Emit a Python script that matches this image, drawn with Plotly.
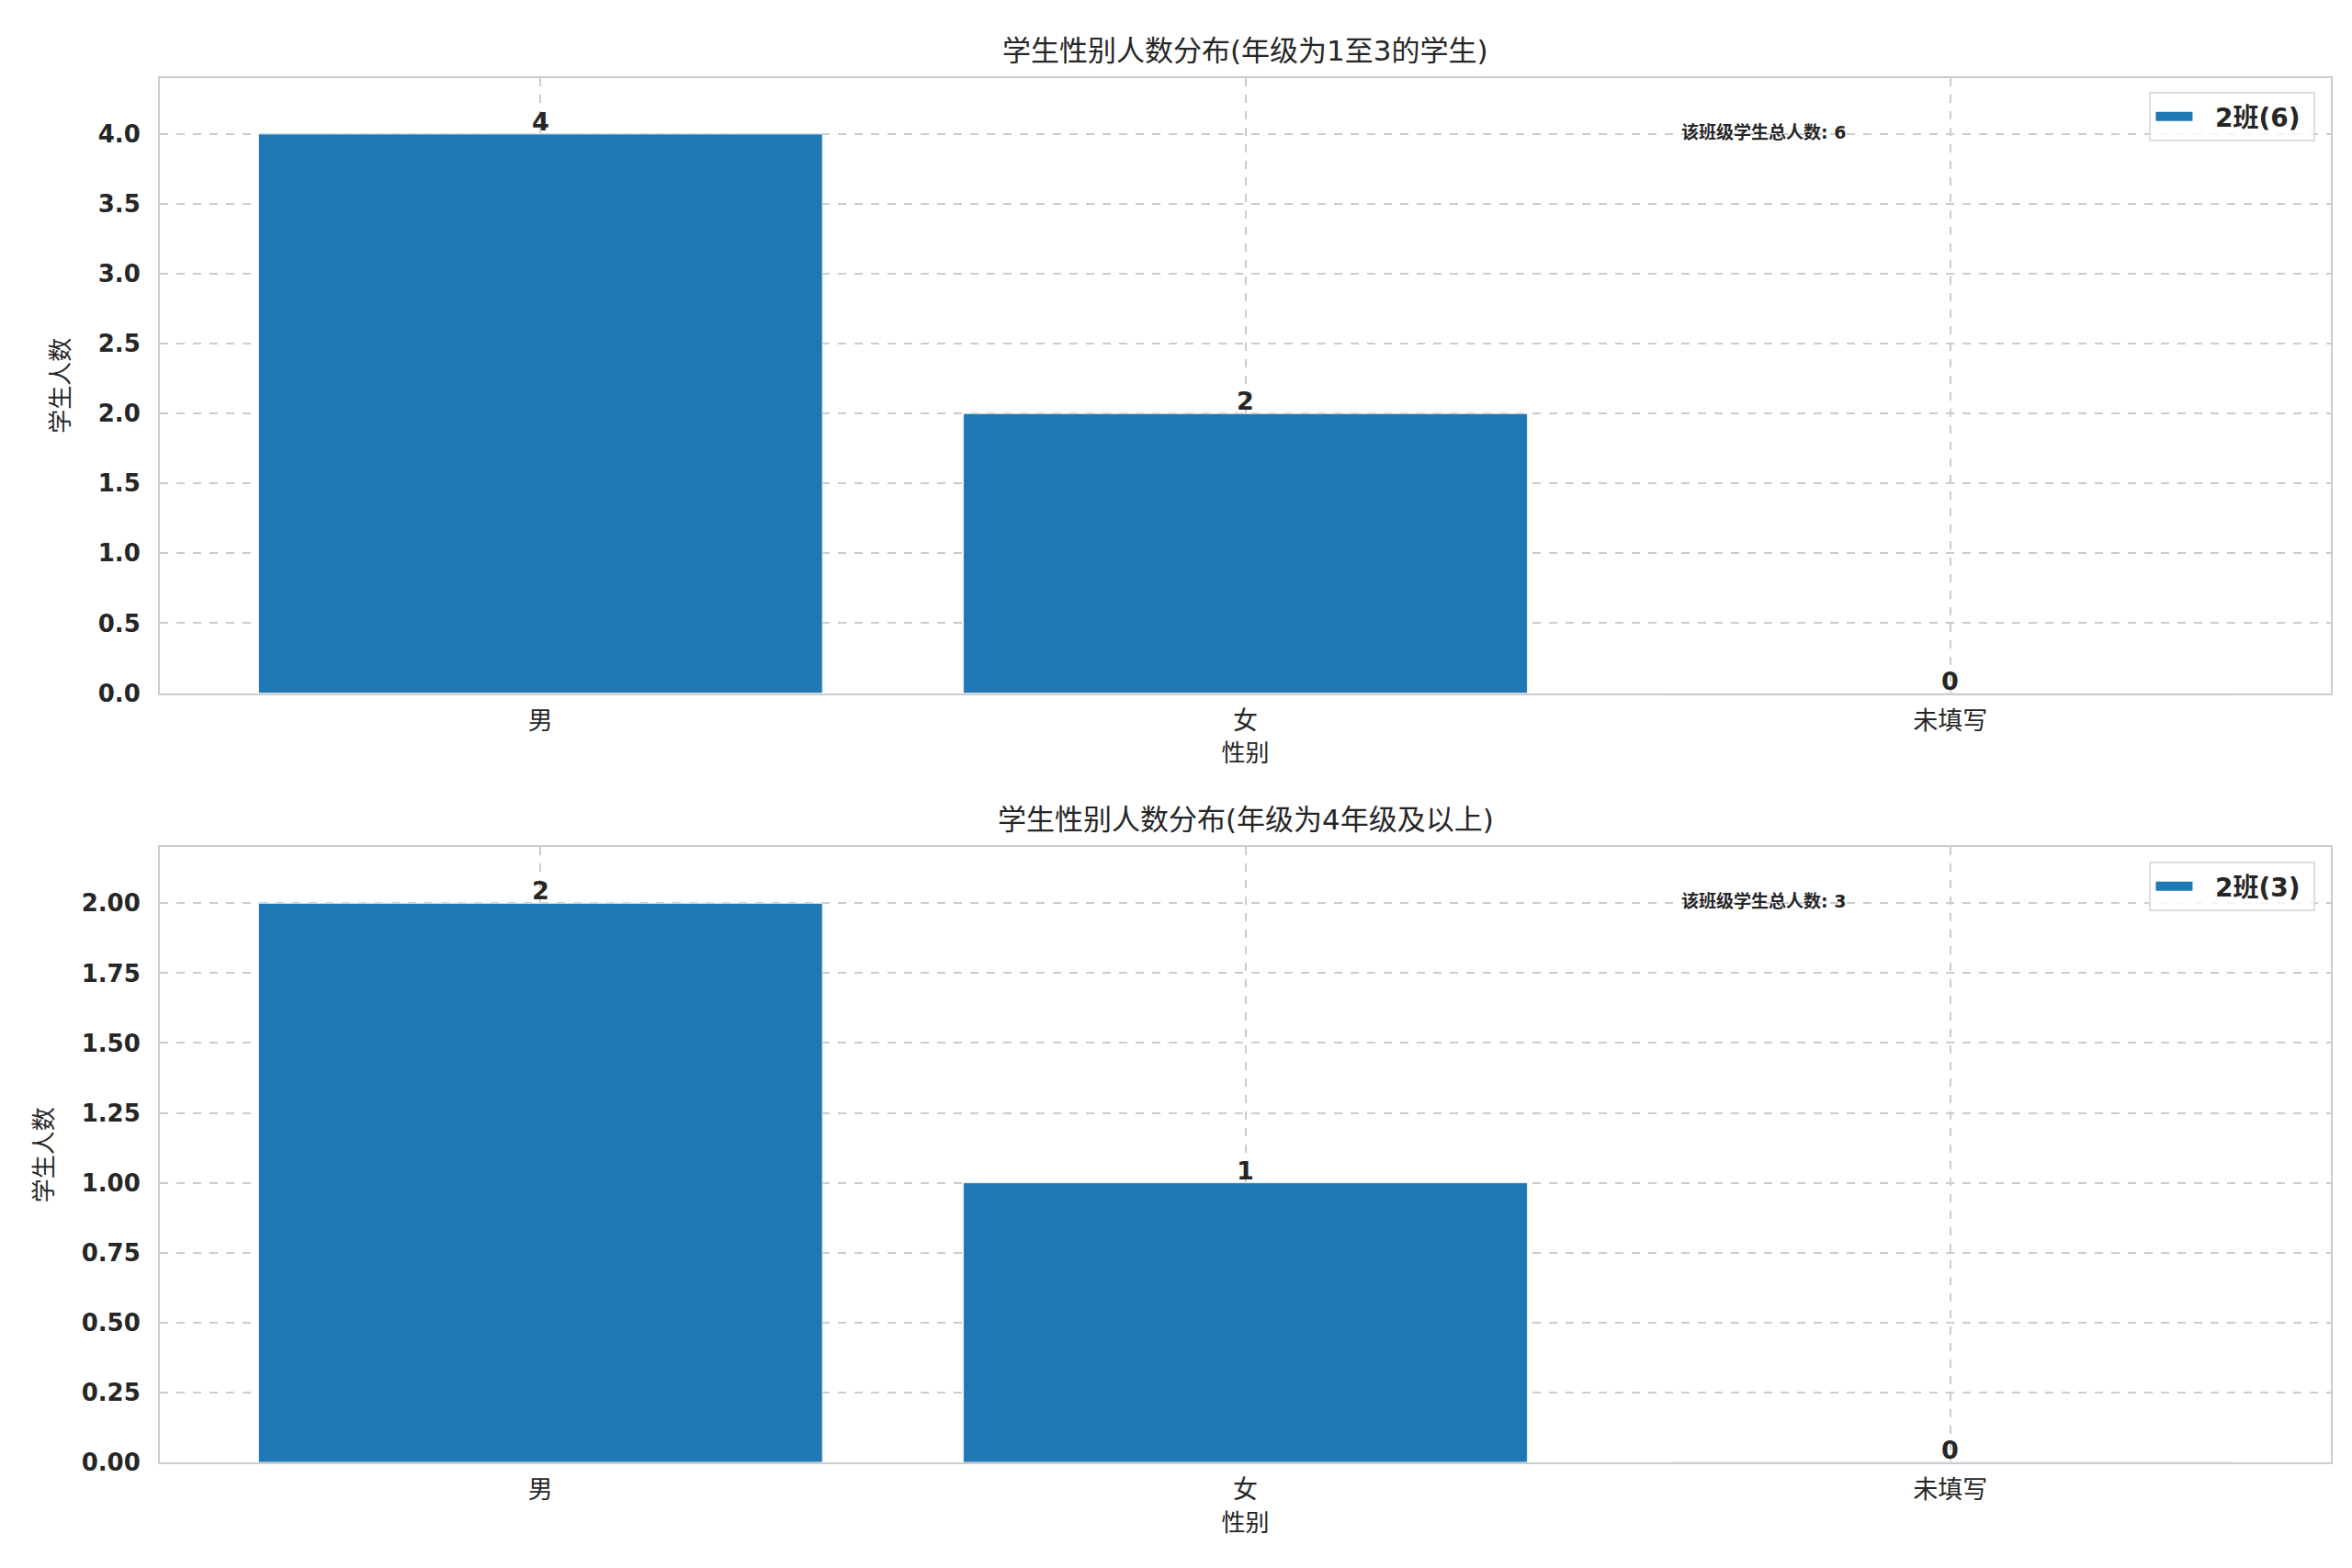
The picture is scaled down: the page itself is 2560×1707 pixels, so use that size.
import plotly.graph_objects as go
from plotly.subplots import make_subplots

# data
categories = ["男", "女", "未填写"]
counts_low = [4, 2, 0]     # grades 1-3
counts_high = [2, 1, 0]    # grades 4+
titles = ["学生性别人数分布(年级为1至3的学生)", "学生性别人数分布(年级为4年级及以上)"]
legend_names = ["2班(6)", "2班(3)"]
total_label = "该班级学生总人数"
x_label = "性别"
y_label = "学生人数"

bar_color = "#1f77b4"
text_color = "#262626"
grid_color = "#cccccc"
font_family = "DejaVu Sans, Noto Sans CJK SC"

fig = make_subplots(rows=2, cols=1, subplot_titles=titles, vertical_spacing=0.1114)

panels = [(counts_low, legend_names[0], "legend", 0.5, ".1f"),
          (counts_high, legend_names[1], "legend2", 0.25, ".2f")]

for i, (vals, name, leg, step, fmt) in enumerate(panels):
	row = i + 1
	fig.add_trace(go.Bar(
		x=list(range(len(categories))), y=vals, name=name, width=0.8,
		marker=dict(color=bar_color, line=dict(color="#e8eef5", width=1)),
		showlegend=False,
	), row=row, col=1)
	# legend entry drawn as a wide patch, like the original
	fig.add_trace(go.Scatter(
		x=[None], y=[None], mode="lines", name="\u00a0\u00a0" + name + "\u00a0",
		line=dict(color=bar_color, width=16), legend=leg, showlegend=True,
	), row=row, col=1)

	xref = "x" if row == 1 else "x2"
	yref = "y" if row == 1 else "y2"
	for k, v in enumerate(vals):
		fig.add_annotation(x=k, y=v, xref=xref, yref=yref, text="<b>%d</b>" % v,
			showarrow=False, yanchor="bottom", yshift=-4,
			font=dict(size=27, color=text_color, family=font_family))

	fig.add_annotation(x=0.7, y=0.912, xref=xref + " domain", yref=yref + " domain",
		text="<b>%s: %d</b>" % (total_label, sum(vals)), showarrow=False,
		xanchor="left", yanchor="middle",
		font=dict(size=19, color=text_color, family=font_family))

	fig.update_yaxes(range=[0, max(vals) * 1.1], dtick=step, tick0=0, tickformat=fmt,
		title=dict(text=y_label, font=dict(size=26, color=text_color, family=font_family), standoff=24),
		row=row, col=1)
	fig.update_xaxes(range=[-0.54, 2.54], tickvals=list(range(len(categories))), ticktext=categories,
		title=dict(text=x_label, font=dict(size=26, color=text_color, family=font_family), standoff=12),
		row=row, col=1)

fig.update_yaxes(tickfont=dict(size=26, color=text_color, family=font_family, weight="bold"))
fig.update_xaxes(tickfont=dict(size=27, color=text_color, family=font_family))
fig.update_xaxes(showline=True, linecolor=grid_color, linewidth=2, mirror=True,
	showgrid=True, gridcolor=grid_color, gridwidth=2, griddash="dash",
	ticks="", ticklabelstandoff=5, zeroline=False)
fig.update_yaxes(showline=True, linecolor=grid_color, linewidth=2, mirror=True,
	showgrid=True, gridcolor=grid_color, gridwidth=2, griddash="dash",
	ticks="", ticklabelstandoff=14, zeroline=False)

# subplot titles
for ann in fig.layout.annotations[:2]:
	ann.font = dict(size=31, color=text_color, family=font_family)
	ann.yshift = 10

legend_style = dict(xanchor="right", yanchor="top", bgcolor="rgba(255,255,255,0.8)",
	bordercolor="#dddddd", borderwidth=2, itemwidth=40,
	font=dict(size=28, color=text_color, family=font_family, weight="bold"))

fig.update_layout(
	width=2560, height=1707,
	paper_bgcolor="white", plot_bgcolor="white",
	margin=dict(l=166, r=31, t=77, b=123),
	legend=dict(x=0.993, y=0.99, **legend_style),
	legend2=dict(x=0.993, y=0.434, **legend_style),
)

fig.write_html("out.html")
